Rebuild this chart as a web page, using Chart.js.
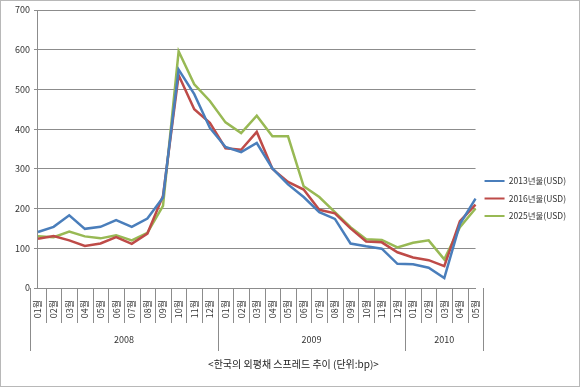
<!DOCTYPE html>
<html>
<head>
<meta charset="utf-8">
<script src="https://cdn.jsdelivr.net/npm/chart.js@4.4.0/dist/chart.umd.min.js"></script>
<style>
  body { margin: 0; background: #fff; }
</style>
</head>
<body>
<canvas id="mycanvas" width="580" height="387"></canvas>
<script>
var years = ['2008', '2009', '2010'];
var yearCounts = [12, 12, 5];
var monthLabels = [
  '01월','02월','03월','04월','05월','06월','07월','08월','09월','10월','11월','12월',
  '01월','02월','03월','04월','05월','06월','07월','08월','09월','10월','11월','12월',
  '01월','02월','03월','04월','05월'
];
var bond2013 = [141,154,183,149,154,171,154,175,228,550,488,403,355,342,365,301,261,229,191,174,112,105,99,61,60,51,25,161,225];
var bond2016 = [124,131,120,106,112,128,111,137,232,536,450,416,352,348,393,300,267,248,197,188,150,117,115,90,77,70,55,168,210];
var bond2025 = [130,128,142,130,125,133,120,139,207,596,513,471,417,390,434,382,382,256,229,191,153,123,121,102,114,120,72,153,200];
var seriesNames = ['2013년물(USD)', '2016년물(USD)', '2025년물(USD)'];
var chartTitle = '<한국의 외평채 스프레드 추이 (단위:bp)>';

var fontFamily = "'Noto Sans CJK KR', 'DejaVu Sans', sans-serif";
var axisGray = '#8c8c8c';

// year row + separators under the month labels
var groupAxis = {
  id: 'groupAxis',
  afterDraw: function(chart) {
    var x = chart.scales.x;
    var ctx = chart.ctx;
    var step = x.getPixelForValue(1) - x.getPixelForValue(0);
    var top = x.top;
    var bounds = [0];
    var pos = 0;
    for (var k = 0; k < yearCounts.length; k++) {
      pos += yearCounts[k];
      bounds.push(pos);
    }
    ctx.save();
    ctx.strokeStyle = axisGray;
    ctx.lineWidth = 1;
    ctx.beginPath();
    for (var i = 0; i <= monthLabels.length; i++) {
      var px = Math.round(x.getPixelForValue(i) - step / 2) + 0.5;
      var isLong = bounds.indexOf(i) >= 0;
      ctx.moveTo(px, top);
      ctx.lineTo(px, top + (isLong ? 63 : 35));
    }
    ctx.stroke();
    ctx.fillStyle = '#333';
    ctx.font = '9px ' + fontFamily;
    ctx.textAlign = 'center';
    ctx.textBaseline = 'middle';
    for (var j = 0; j < years.length; j++) {
      var a = x.getPixelForValue(bounds[j]) - step / 2;
      var b = x.getPixelForValue(bounds[j + 1]) - step / 2;
      ctx.fillText(years[j], (a + b) / 2, top + 52);
    }
    ctx.restore();
  },
  beforeDraw: function(chart) {
    var ctx = chart.ctx;
    ctx.save();
    ctx.fillStyle = '#fff';
    ctx.fillRect(0, 0, chart.width, chart.height);
    ctx.strokeStyle = '#b8b8b8';
    ctx.strokeRect(0.5, 0.5, chart.width - 1, chart.height - 1);
    ctx.restore();
  }
};

var ctx = document.getElementById('mycanvas');
var lineChart = new Chart(ctx, {
  type: 'line',
  data: {
    labels: monthLabels,
    datasets: [
      { label: seriesNames[0], data: bond2013, borderColor: '#4a7ebb', backgroundColor: '#4a7ebb' },
      { label: seriesNames[1], data: bond2016, borderColor: '#be4b48', backgroundColor: '#be4b48' },
      { label: seriesNames[2], data: bond2025, borderColor: '#98b954', backgroundColor: '#98b954' }
    ]
  },
  options: {
    responsive: false,
    animation: false,
    layout: { padding: { left: 11, top: 10, right: 4, bottom: 0 } },
    elements: {
      line: { borderWidth: 2.5, tension: 0 },
      point: { radius: 0, hoverRadius: 0 }
    },
    scales: {
      x: {
        grid: { display: false },
        border: { color: axisGray },
        ticks: {
          minRotation: 90, maxRotation: 90, autoSkip: false, padding: 4,
          color: '#333', font: { size: 9, family: fontFamily }
        },
        afterFit: function(scale) { scale.height = 63; }
      },
      y: {
        min: 0, max: 700,
        grid: { color: axisGray, tickLength: 4 },
        border: { color: axisGray },
        ticks: { stepSize: 100, padding: 4, color: '#333', font: { size: 9, family: fontFamily } }
      }
    },
    plugins: {
      legend: {
        position: 'right',
        labels: {
          boxWidth: 20, boxHeight: 2, padding: 9,
          color: '#333', font: { size: 8.5, family: fontFamily },
          generateLabels: function(chart) {
            var items = Chart.defaults.plugins.legend.labels.generateLabels(chart);
            items.forEach(function(it) { it.lineWidth = 0; });
            return items;
          }
        }
      },
      title: {
        display: true,
        position: 'bottom',
        text: chartTitle,
        color: '#222',
        font: { size: 10, weight: 'normal', family: fontFamily },
        padding: { top: 7, bottom: 17 }
      },
      tooltip: { enabled: false }
    }
  },
  plugins: [groupAxis]
});
</script>
</body>
</html>
